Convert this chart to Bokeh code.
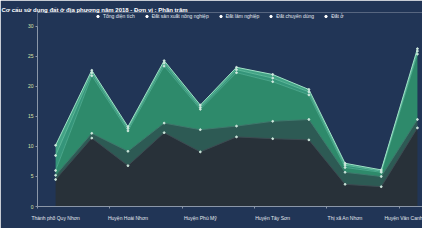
from bokeh.plotting import figure
from bokeh.models import ColumnDataSource, Range1d, FixedTicker, Legend, LegendItem
from bokeh.transform import stack
from bokeh.embed import file_html
from bokeh.resources import INLINE

title_text = "Cơ cấu sử dụng đất ở địa phương năm 2018 - Đơn vị : Phần trăm"
categories = ["Thành phố Quy Nhơn", "Huyện An Lão", "Huyện Hoài Nhơn", "Huyện Hoài Ân",
              "Huyện Phù Mỹ", "Huyện Vĩnh Thạnh", "Huyện Tây Sơn", "Huyện Phù Cát",
              "Thị xã An Nhơn", "Huyện Tuy Phước", "Huyện Vân Canh"]
series_names = ["Tổng diện tích", "Đất sản xuất nông nghiệp", "Đất lâm nghiệp",
                "Đất chuyên dùng", "Đất ở"]
tong_dien_tich = [4.5, 11.4, 6.8, 12.3, 9.1, 11.6, 11.3, 11.1, 3.7, 3.3, 13.1]
dat_nong_nghiep = [0.7, 0.8, 2.4, 1.6, 3.7, 1.8, 2.9, 3.4, 2.0, 1.7, 1.4]
dat_lam_nghiep = [0.8, 9.6, 3.4, 9.5, 3.4, 8.9, 6.6, 4.1, 0.8, 0.7, 10.9]
dat_chuyen_dung = [2.5, 0.5, 0.4, 0.5, 0.3, 0.5, 0.6, 0.5, 0.4, 0.2, 0.5]
dat_o = [1.7, 0.4, 0.3, 0.4, 0.4, 0.4, 0.6, 0.4, 0.3, 0.2, 0.4]
y_ticks = [0, 5, 10, 15, 20, 25, 30]
label_ticks = [0, 2, 4, 6, 8, 10]

BG = "#213556"
FONT = "Liberation Sans"
keys = ["s1", "s2", "s3", "s4", "s5"]
source = ColumnDataSource(dict(
    x=list(range(len(categories))),
    s1=tong_dien_tich, s2=dat_nong_nghiep, s3=dat_lam_nghiep,
    s4=dat_chuyen_dung, s5=dat_o,
))

# frame: 194 px tall at 6 px per unit -> headroom above 30 holds the legend
p = figure(width=422, height=228, x_range=Range1d(-0.5, 10.14), y_range=Range1d(0, 32.33),
           output_backend="svg", toolbar_location=None, title=title_text,
           min_border_left=37, min_border_right=0, min_border_top=12, min_border_bottom=22,
           background_fill_color=BG, border_fill_color=BG, outline_line_color=None)
p.grid.visible = False
p.title.text_font_size = "6px"
p.title.text_font = FONT
p.title.text_font_style = "bold"
p.title.text_color = "#ffffff"
p.title.align = "left"
p.title.offset = -36
p.title.standoff = 0

fills = ["#283139", "#2d5a54", "#2e8a6b", "#35957a", "#43a386"]
p.varea_stack(stackers=keys, x="x", color=fills, source=source)
line_cols = ["#3d4a50", "#3f7a6c", "#4aa88a", "#5db99a", "#9fe2c6"]
p.vline_stack(stackers=keys, x="x", color=line_cols, line_width=1, source=source)
for i in range(5):
    p.scatter(x="x", y=stack(*keys[:i + 1]), size=1.8, color="#cfe9de", source=source)

# legend with white circle icons (proxy renderers with no visible point)
items = []
for name in series_names:
    r = p.scatter(x=[float("nan")], y=[float("nan")], size=4, color="#ffffff")
    items.append(LegendItem(label=name, renderers=[r]))
legend = Legend(items=items, orientation="horizontal", location=(57, 187),
                background_fill_alpha=0, border_line_color=None,
                label_text_color="#e3e8ef", label_text_font_size="5px",
                label_text_font=FONT, glyph_width=7, glyph_height=6,
                label_height=6, label_standoff=2, spacing=8, padding=0, margin=0)
p.add_layout(legend)

p.yaxis.ticker = FixedTicker(ticks=y_ticks)
p.yaxis.bounds = (0, 30)
p.yaxis.major_label_text_color = "#d9e4a6"
p.yaxis.major_label_text_font_size = "5px"
p.yaxis.major_label_text_font = FONT
p.yaxis.axis_line_color = "#8b97a8"
p.yaxis.major_tick_line_color = "#8b97a8"
p.yaxis.major_tick_out = 2
p.yaxis.major_tick_in = 0
p.yaxis.minor_tick_line_color = None
p.yaxis.major_label_standoff = 2

p.xaxis.ticker = FixedTicker(ticks=label_ticks, minor_ticks=[-0.5, 1.5, 3.5, 5.5, 7.5, 9.5])
p.xaxis.major_label_overrides = {i: categories[i] for i in label_ticks}
p.xaxis.major_label_text_color = "#e3e8ef"
p.xaxis.major_label_text_font_size = "5px"
p.xaxis.major_label_text_font = FONT
p.xaxis.axis_line_color = "#8b97a8"
p.xaxis.major_tick_line_color = None
p.xaxis.minor_tick_line_color = "#8b97a8"
p.xaxis.minor_tick_out = 2
p.xaxis.minor_tick_in = 0
p.xaxis.major_label_standoff = 2

open("out.html", "w").write(file_html(p, INLINE))
